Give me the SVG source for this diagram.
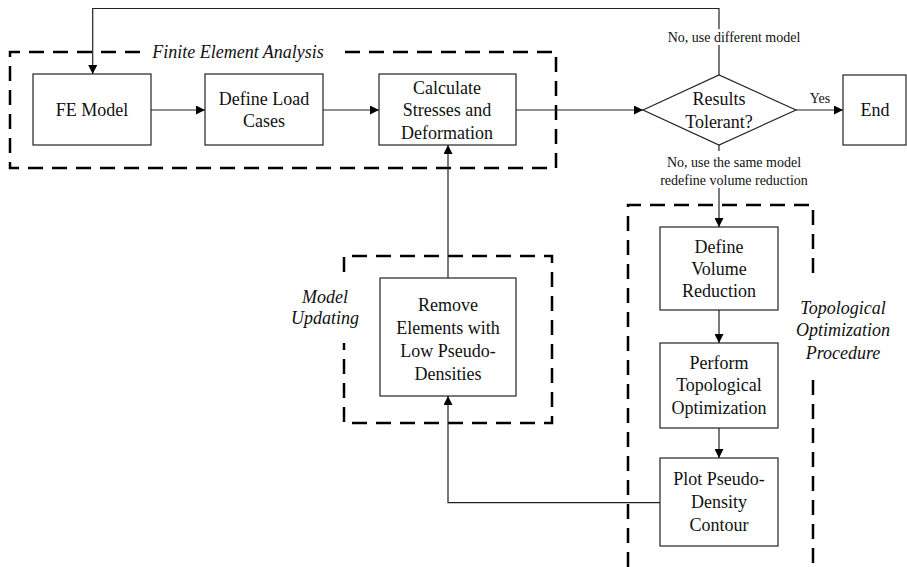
<svg xmlns="http://www.w3.org/2000/svg" width="907" height="567" viewBox="0 0 907 567">
<style>
.box{fill:#fff;stroke:#222;stroke-width:1.2}
.t{font-family:"Liberation Serif","Times New Roman",serif;font-size:18px;fill:#111;text-anchor:middle}
.s{font-family:"Liberation Serif","Times New Roman",serif;font-size:14px;fill:#111;text-anchor:middle}
.i{font-family:"Liberation Serif","Times New Roman",serif;font-size:18px;font-style:italic;fill:#111;text-anchor:middle}
.dash{fill:none;stroke:#000;stroke-width:2.5;stroke-dasharray:15 9}
.c{fill:none;stroke:#222;stroke-width:1.2}
</style>
<defs>
<marker id="ah" viewBox="0 0 10 10" refX="10" refY="5" markerWidth="9" markerHeight="9" markerUnits="userSpaceOnUse" orient="auto">
<path d="M0,0 L10,5 L0,10 z" fill="#000"/>
</marker>
</defs>
<rect width="907" height="567" fill="#fff"/>

<g id="groups">
<path class="dash" d="M140,52 H10 V168 H556 V52 H340"/>
<text class="i" x="238" y="58">Finite Element Analysis</text>
<path class="dash" d="M344,272 V256 H552 V423 H344 V343"/>
<text class="i" x="325" y="303">Model</text>
<text class="i" x="325" y="324">Updating</text>
<path class="dash" d="M628,567 V205 H813 V277 M813,380 V567"/>
<text class="i" x="843" y="314">Topological</text>
<text class="i" x="843" y="336">Optimization</text>
<text class="i" x="843" y="359">Procedure</text>
</g>

<g id="connectors">
<path class="c" d="M151,110 H205" marker-end="url(#ah)"/>
<path class="c" d="M323,110 H379" marker-end="url(#ah)"/>
<path class="c" d="M516,110 H643" marker-end="url(#ah)"/>
<path class="c" d="M796,110 H843" marker-end="url(#ah)"/>
<path class="c" d="M719,75 V8.5 H92.7 V74" marker-end="url(#ah)"/>
<path class="c" d="M719,145 V227" marker-end="url(#ah)"/>
<path class="c" d="M719,310 V343" marker-end="url(#ah)"/>
<path class="c" d="M719,428 V458" marker-end="url(#ah)"/>
<path class="c" d="M660,502.7 H448 V396" marker-end="url(#ah)"/>
<path class="c" d="M448,277.7 V145" marker-end="url(#ah)"/>
<rect x="662" y="29" width="144" height="16" fill="#fff"/>
<text class="s" x="734" y="42">No, use different model</text>
<rect x="655" y="151" width="159" height="37" fill="#fff"/>
<text class="s" x="734" y="167">No, use the same model</text>
<text class="s" x="734" y="185">redefine volume reduction</text>
<text class="s" x="820" y="103">Yes</text>
</g>

<g id="fe-model">
<rect class="box" x="33" y="74" width="118" height="71"/>
<text class="t" x="92" y="116">FE Model</text>
</g>
<g id="define-load">
<rect class="box" x="205" y="74" width="118" height="71"/>
<text class="t" x="264" y="105">Define Load</text>
<text class="t" x="264" y="127">Cases</text>
</g>
<g id="calculate">
<rect class="box" x="379" y="74" width="137" height="71"/>
<text class="t" x="447" y="94">Calculate</text>
<text class="t" x="447" y="116">Stresses and</text>
<text class="t" x="447" y="139">Deformation</text>
</g>
<g id="results">
<polygon class="box" points="643,110 719,75 796,110 719,145"/>
<text class="t" x="719" y="105">Results</text>
<text class="t" x="719" y="128">Tolerant?</text>
</g>
<g id="end">
<rect class="box" x="843" y="75" width="63" height="70"/>
<text class="t" x="875" y="116">End</text>
</g>
<g id="define-volume">
<rect class="box" x="660" y="227" width="118" height="83"/>
<text class="t" x="719" y="253">Define</text>
<text class="t" x="719" y="275">Volume</text>
<text class="t" x="719" y="297">Reduction</text>
</g>
<g id="perform">
<rect class="box" x="660" y="343" width="118" height="85"/>
<text class="t" x="719" y="369">Perform</text>
<text class="t" x="719" y="391">Topological</text>
<text class="t" x="719" y="414">Optimization</text>
</g>
<g id="plot">
<rect class="box" x="660" y="458" width="118" height="88"/>
<text class="t" x="719" y="485">Plot Pseudo-</text>
<text class="t" x="719" y="508">Density</text>
<text class="t" x="719" y="531">Contour</text>
</g>
<g id="remove">
<rect class="box" x="380" y="278" width="136" height="118"/>
<text class="t" x="448" y="311">Remove</text>
<text class="t" x="448" y="334">Elements with</text>
<text class="t" x="448" y="357">Low Pseudo-</text>
<text class="t" x="448" y="380">Densities</text>
</g>
</svg>
